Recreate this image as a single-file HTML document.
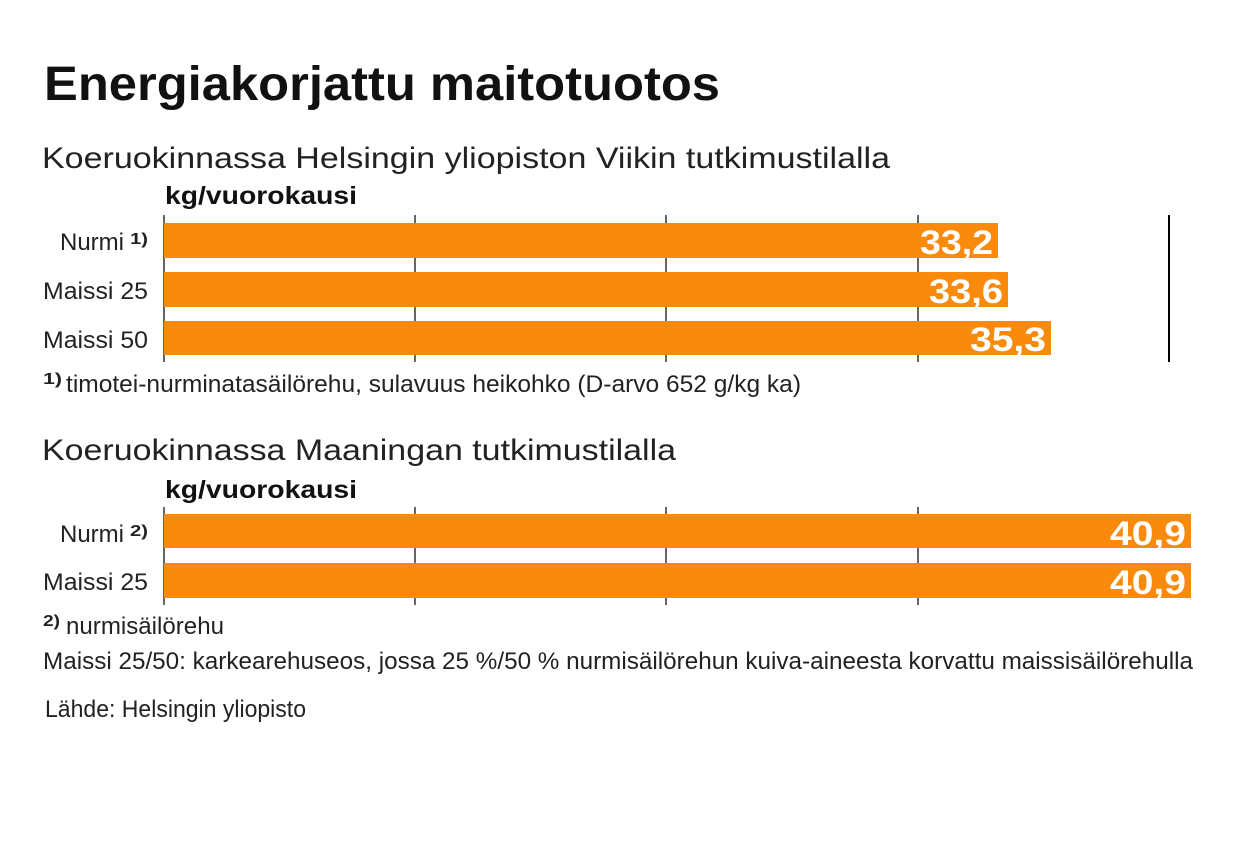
<!DOCTYPE html>
<html><head><meta charset="utf-8"><style>
html,body{margin:0;padding:0;background:#fff;}
svg{display:block;font-family:"Liberation Sans",sans-serif;}
</style></head><body>
<svg width="1240" height="854" viewBox="0 0 1240 854" xmlns="http://www.w3.org/2000/svg">
<rect width="1240" height="854" fill="#fff"/>
<text x="44" y="100" font-size="48" font-weight="bold" textLength="676" lengthAdjust="spacingAndGlyphs" fill="#111">Energiakorjattu maitotuotos</text>
<text x="42" y="168" font-size="30" textLength="848" lengthAdjust="spacingAndGlyphs" fill="#222">Koeruokinnassa Helsingin yliopiston Viikin tutkimustilalla</text>
<text x="165" y="204" font-size="25" font-weight="bold" textLength="192" lengthAdjust="spacingAndGlyphs" fill="#111">kg/vuorokausi</text>
<g stroke="#333" stroke-width="1.5">
<line x1="164" y1="215" x2="164" y2="362"/><line x1="415" y1="215" x2="415" y2="362"/>
<line x1="666" y1="215" x2="666" y2="362"/><line x1="918" y1="215" x2="918" y2="362"/>
<line x1="1169" y1="215" x2="1169" y2="362" stroke="#000" stroke-width="2"/>
</g>
<g fill="#f98a0c">
<rect x="164" y="223" width="834" height="35"/>
<rect x="164" y="272" width="844" height="35"/>
<rect x="164" y="321" width="887" height="34"/>
</g>
<g font-size="34" font-weight="bold" fill="#fff">
<text x="920" y="254" textLength="73" lengthAdjust="spacingAndGlyphs">33,2</text>
<text x="929" y="303" textLength="74" lengthAdjust="spacingAndGlyphs">33,6</text>
<text x="970" y="351" textLength="76" lengthAdjust="spacingAndGlyphs">35,3</text>
</g>
<g font-size="24" fill="#222">
<text x="60" y="250" textLength="64" lengthAdjust="spacingAndGlyphs">Nurmi</text>
<text x="130" y="244" font-size="16" font-weight="bold" textLength="18" lengthAdjust="spacingAndGlyphs">1)</text>
<text x="43" y="299" textLength="105" lengthAdjust="spacingAndGlyphs">Maissi 25</text>
<text x="43" y="348" textLength="105" lengthAdjust="spacingAndGlyphs">Maissi 50</text>
<text x="43" y="384" font-size="16" font-weight="bold" textLength="19" lengthAdjust="spacingAndGlyphs">1)</text>
<text x="66" y="392" textLength="735" lengthAdjust="spacingAndGlyphs">timotei-nurminatasäilörehu, sulavuus heikohko (D-arvo 652 g/kg ka)</text>
</g>
<text x="42" y="460" font-size="30" textLength="634" lengthAdjust="spacingAndGlyphs" fill="#222">Koeruokinnassa Maaningan tutkimustilalla</text>
<text x="165" y="498" font-size="25" font-weight="bold" textLength="192" lengthAdjust="spacingAndGlyphs" fill="#111">kg/vuorokausi</text>
<g stroke="#333" stroke-width="1.5">
<line x1="164" y1="507" x2="164" y2="605"/><line x1="415" y1="507" x2="415" y2="605"/>
<line x1="666" y1="507" x2="666" y2="605"/><line x1="918" y1="507" x2="918" y2="605"/>
</g>
<g fill="#f98a0c">
<rect x="164" y="514" width="1027" height="34"/>
<rect x="164" y="563" width="1027" height="35"/>
</g>
<g font-size="34" font-weight="bold" fill="#fff">
<text x="1110" y="545" textLength="76" lengthAdjust="spacingAndGlyphs">40,9</text>
<text x="1110" y="594" textLength="76" lengthAdjust="spacingAndGlyphs">40,9</text>
</g>
<g font-size="24" fill="#222">
<text x="60" y="542" textLength="64" lengthAdjust="spacingAndGlyphs">Nurmi</text>
<text x="130" y="536" font-size="16" font-weight="bold" textLength="18" lengthAdjust="spacingAndGlyphs">2)</text>
<text x="43" y="590" textLength="105" lengthAdjust="spacingAndGlyphs">Maissi 25</text>
<text x="43" y="626" font-size="16" font-weight="bold" textLength="17" lengthAdjust="spacingAndGlyphs">2)</text>
<text x="66" y="634" textLength="158" lengthAdjust="spacingAndGlyphs">nurmisäilörehu</text>
<text x="43" y="669" textLength="1150" lengthAdjust="spacingAndGlyphs">Maissi 25/50: karkearehuseos, jossa 25 %/50 % nurmisäilörehun kuiva-aineesta korvattu maissisäilörehulla</text>
<text x="45" y="717" textLength="261" lengthAdjust="spacingAndGlyphs">Lähde: Helsingin yliopisto</text>
</g>
</svg>
</body></html>
